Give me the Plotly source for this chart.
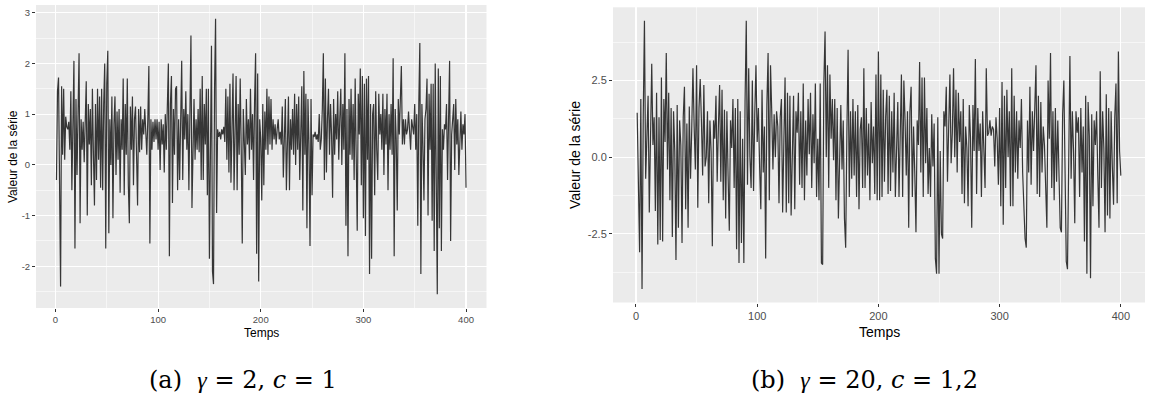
import plotly.graph_objects as go

# ---- data ----
SERIES_A = [
    -0.3, 1.45, 1.72, -1.2, -2.4, 1.55, 0.2, 1.5, 0.1, 0.95,
    0.75, 0.7, 0.85, 0.3, 1.45, -0.5, 0.7, 2.05, -1.65, 1.3,
    -0.2, 0.95, 2.2, -1.15, 0.9, 0.3, 0.85, 0.05, 1.2, 1.65,
    -1.0, 1.2, 0.4, 1.1, -0.4, 1.5, 0.2, -0.8, 1.2, -0.3,
    1.5, 0.1, 1.35, -0.45, 1.5, -0.5, 1.2, 2.0, -1.65, 1.6,
    2.25, -1.35, 0.9, 0.0, 1.35, -1.05, 0.8, 1.35, -0.2, 1.05,
    0.1, 1.1, -0.55, 0.9, 0.3, 1.7, -0.6, 1.2, 0.2, 1.7,
    -0.4, -1.15, 1.15, 0.3, 1.35, -0.4, 0.9, 1.15, 0.2, -0.8,
    1.1, 0.25, 1.15, 0.3, 0.9, 0.6, 1.1, 0.4, 0.2, 0.9,
    1.95, -1.55, 0.9, 0.3, 0.85, 0.45, 0.9, 0.5, 0.9, 0.3,
    0.85, -0.1, 0.9, 0.4, 0.8, -0.15, 1.0, 0.3, 1.4, 2.0,
    -1.8, 1.2, 1.75, -0.75, 1.1, 0.2, 1.5, 1.55, -0.5, 0.9,
    -0.3, 1.3, 2.05, -0.3, 1.1, 0.5, 1.45, 0.3, 1.0, -0.5,
    1.45, 2.55, -0.85, 0.8, 1.3, 0.1, 0.9, 0.3, 1.1, 0.25,
    1.5, -0.3, 1.75, -0.3, 1.2, 0.4, 1.5, -0.6, 1.5, -1.85,
    1.4, 2.35, -2.1, -2.35, 1.5, 2.88, -0.95, 0.7, 0.55, 0.65,
    0.5, 0.7, 0.6, 0.75, 0.45, 1.5, 0.1, 1.35, -0.15, 1.6,
    -0.35, 1.3, 1.8, -0.5, 1.0, 1.75, -0.5, 1.2, 0.2, 1.7,
    0.3, -1.55, 1.1, 0.6, -0.2, 1.3, 0.4, 0.9, 0.1, 1.5,
    0.3, 1.0, -0.3, 1.25, 2.2, -1.75, 1.8, -2.3, 0.9, 0.5,
    -0.7, 1.2, -0.4, 1.05, 0.3, 1.5, 0.2, 1.35, 0.4, 1.3,
    0.3, 0.9, 0.5, 0.8, 0.4, 0.7, 0.9, 0.5, 0.65, 0.4,
    1.15, -0.25, 0.9, 1.3, -0.5, 0.8, 1.35, -0.5, 0.9, 0.3,
    1.1, 0.2, 1.4, 0.0, 1.2, 0.3, 1.35, -0.3, 0.9, 1.55,
    -0.9, 1.85, 0.2, 1.4, -1.25, 1.3, 0.4, -1.6, 1.3, -0.6,
    0.6, 0.55, 0.65, 0.5, 0.6, 0.45, 1.0, 0.3, 0.5, 1.1,
    2.2, -0.3, 1.7, -0.15, 0.9, 1.5, 0.2, 1.2, 0.6, -0.65,
    1.3, 0.2, 1.0, 0.5, 1.45, 0.1, 0.9, 1.5, 0.0, 1.2,
    0.3, 2.2, -1.2, 1.1, -1.8, 1.3, 0.2, 1.5, 0.1, 1.2,
    -0.3, 1.7, 0.2, -1.3, 1.4, 0.6, 1.9, -0.4, 1.75, -1.05,
    1.6, -1.4, 1.7, 0.1, 1.75, -2.15, 1.2, -1.85, 1.0, 1.2,
    -0.6, 1.45, 0.3, -0.3, 1.4, 0.6, 1.0, 0.3, 1.4, -0.2,
    1.1, 0.4, 1.4, -0.5, 1.0, 0.3, 1.2, 0.2, 2.1, -1.8,
    1.1, 0.5, -0.9, 1.3, 0.6, 1.3, 1.95, 0.4, 0.9, 0.4,
    0.9, 0.6, 0.7, 1.05, 0.6, 0.3, 0.9, 0.7, 0.6, 1.2,
    0.3, 1.0, -1.2, 1.2, 2.4, -2.15, 1.2, 0.4, -0.7, 0.9,
    1.1, 1.7, -1.0, 1.4, 0.3, 1.6, -1.1, 1.6, -1.7, 2.0,
    -0.5, -2.55, 1.9, -1.25, 1.75, -1.7, 0.7, 0.3, 0.8, 0.7,
    1.2, -0.3, 0.9, 2.05, -1.5, 0.6, 0.9, 1.2, -0.1, 1.3,
    0.4, 0.9, -0.2, 0.7, 1.05, 0.3, 0.8, 0.6, 1.0, -0.45,
]

SERIES_B = [
    1.45, -1.65, -3.1, 1.9, -4.3, 1.3, 4.45, -0.7, 1.2, 2.0,
    -1.8, 0.4, 3.05, 0.4, 1.3, -1.75, 2.1, -2.85, 1.3, -2.7,
    2.6, -2.75, 1.9, 0.5, 3.4, -0.4, 2.1, -1.4, 1.6, -2.6,
    1.5, 0.2, -3.35, 1.7, -2.3, 1.2, 0.4, -2.8, 1.3, 2.3,
    -1.7, 1.1, -2.3, 1.65, -0.7, 0.9, 2.9, 1.0, -0.4, 3.0,
    -1.65, 1.6, 2.55, 1.2, -0.6, 2.35, -0.3, 0.0, 1.5, -1.5,
    1.2, 0.2, -2.9, 1.2, 0.6, 2.0, -0.8, 1.0, 2.35, -0.8,
    2.2, -1.4, 1.55, -2.0, 1.5, -0.6, -2.4, 1.2, 0.3, 1.9,
    -1.0, 1.6, -3.0, 1.9, -3.45, 1.5, -2.8, 0.6, -3.45, 1.8,
    4.45, -0.9, 2.9, 0.0, -1.0, 2.5, -1.1, 1.4, 3.0, 0.5,
    1.6, -0.3, -1.7, 2.2, -0.5, 1.0, -3.3, 1.7, 3.4, -1.4,
    3.0, 1.5, -0.4, 1.4, 0.0, 1.5, 1.0, -1.5, 1.3, 1.9,
    -1.8, 0.5, 2.6, -1.8, 2.1, -1.5, 2.0, -1.9, 0.8, 2.0,
    -1.7, 1.5, 0.8, 2.1, -0.9, 1.5, -1.0, 2.4, -1.4, 1.2,
    -0.6, 1.9, 0.1, 2.1, -1.0, 1.4, -0.2, 2.4, -1.3, 0.6,
    -1.4, 2.4, -3.45, -3.5, 2.4, 4.1, 0.0, 3.0, -1.0, 2.7,
    0.6, 1.9, -0.1, 1.9, -1.4, 1.6, -2.0, 0.5, 1.7, -0.4,
    1.2, -2.0, -2.95, 0.8, 3.5, -1.3, 1.5, -0.7, 1.9, -0.6,
    1.5, -1.3, 1.7, -1.7, 0.9, 1.3, -1.0, 2.9, -1.0, 1.6,
    -0.6, 1.1, -1.4, 1.8, -0.2, 1.0, -1.2, 2.7, -1.4, 3.45,
    -1.4, 2.7, -1.3, 2.2, -0.8, 1.3, 2.2, -1.2, 2.0, -1.1,
    1.5, -0.5, 2.1, -1.3, 0.4, 1.8, -1.3, 0.9, 2.7, -1.3,
    2.5, 1.2, -0.6, 1.5, -2.3, 1.5, 2.3, -1.3, 1.0, -0.5,
    -2.45, 1.2, 0.4, 3.1, -0.5, 2.6, -1.3, 2.6, -0.2, 1.6,
    -1.2, 0.3, -1.3, 1.4, -0.3, 1.1, -3.3, -3.8, 1.3, -3.8,
    0.2, -2.5, -2.65, 1.5, 1.0, 2.3, -0.8, 1.0, 2.7, -0.2,
    0.8, 2.9, 0.0, 2.2, -0.5, 2.1, 0.5, 1.5, -1.2, 1.9,
    -1.5, 1.0, 0.3, -1.6, 1.7, 0.6, -2.3, 1.7, 0.2, 3.2,
    -1.2, 1.6, 0.2, 1.1, -1.3, 1.5, 0.5, -1.0, 2.9, 0.7,
    0.8, 1.2, 0.7, 1.0, 0.9, -0.3, 1.3, 0.6, -0.9, 1.6,
    -1.6, 2.45, -2.2, 2.0, -1.0, 2.2, 0.0, 1.5, -1.6, 2.9,
    -1.6, 2.0, -0.5, 1.5, -0.7, 1.2, 0.3, 1.9, -0.5, -1.8,
    -2.65, -2.95, 1.2, -0.5, 2.3, -0.9, 1.5, 0.2, 1.8, 3.0,
    -1.2, 2.0, -1.3, 1.8, -0.5, 1.0, 0.4, -1.0, -2.3, 2.5,
    0.6, 3.4, -1.0, 1.5, -1.4, 1.6, -0.8, 1.2, -0.4, -2.3,
    -2.45, 1.4, 2.5, -1.0, -3.4, -3.65, 1.2, 3.3, -0.7, 1.5,
    0.2, -2.15, 1.5, 0.8, 1.3, -1.3, 1.6, -0.5, 1.0, -2.75,
    2.0, -3.8, 1.8, 0.7, -3.95, 1.4, -1.6, 1.2, 0.4, 1.5,
    -0.6, -2.3, 2.8, -1.0, 1.5, 0.3, -2.45, 2.05, -1.9, 1.6,
    -2.0, 1.5, -0.3, -1.55, 1.3, 2.4, -1.5, 3.45, 0.2, -0.6,
]

TIME_A = list(range(1, len(SERIES_A) + 1))
TIME_B = list(range(1, len(SERIES_B) + 1))

X_TICKS = [0, 100, 200, 300, 400]
X_TICK_LABELS = ["0", "100", "200", "300", "400"]
X_MINOR = [50, 150, 250, 350]

A_Y_TICKS = [-2, -1, 0, 1, 2, 3]
A_Y_TICK_LABELS = ["-2", "-1", "0", "1", "2", "3"]
A_Y_MINOR = [-2.5, -1.5, -0.5, 0.5, 1.5, 2.5]

B_Y_TICKS = [-2.5, 0, 2.5]
B_Y_TICK_LABELS = ["-2.5", "0.0", "2.5"]
B_Y_MINOR = [-3.75, -1.25, 1.25, 3.75]

X_TITLE = "Temps"
Y_TITLE = "Valeur de la série"
GAMMA = "<span style=\"font-family:'Liberation Serif'\"><i>γ</i></span>"
CAPTION_A = "(a)\u00a0\u00a0" + GAMMA + " = 2, <i>c</i> = 1"
CAPTION_B = "(b)\u00a0\u00a0" + GAMMA + " = 20, <i>c</i> = 1,2"

# ---- layout helpers ----
W, H = 1158, 402


def fx(p):
    return p / W


def fy(p):
    return 1 - p / H


def expand(vals, mult=0.05):
    lo, hi = min(vals), max(vals)
    pad = (hi - lo) * mult
    return [lo - pad, hi + pad]


LINE_COLOR = "#363636"
PANEL_BG = "#EBEBEB"
TICK_COLOR = "#4D4D4D"
SANS = "Liberation Sans, Arial, sans-serif"

fig = go.Figure()
fig.add_trace(go.Scatter(x=TIME_A, y=SERIES_A, mode="lines",
                         line=dict(color=LINE_COLOR, width=1.2),
                         xaxis="x", yaxis="y", hoverinfo="skip"))
fig.add_trace(go.Scatter(x=TIME_B, y=SERIES_B, mode="lines",
                         line=dict(color=LINE_COLOR, width=1.2),
                         xaxis="x2", yaxis="y2", hoverinfo="skip"))


def axis_common(tickvals, ticktext, minor_vals, size):
    return dict(
        tickmode="array", tickvals=tickvals, ticktext=ticktext,
        showgrid=True, gridcolor="white", gridwidth=1.1,
        minor=dict(tickmode="array", tickvals=minor_vals, showgrid=True,
                   gridcolor="white", gridwidth=0.55),
        zeroline=False, showline=False,
        ticks="outside", ticklen=3, tickwidth=1, tickcolor="#333333",
        tickfont=dict(family=SANS, size=size, color=TICK_COLOR),
    )


fig.update_layout(
    width=W, height=H,
    margin=dict(l=0, r=0, t=0, b=0),
    paper_bgcolor="white", plot_bgcolor=PANEL_BG,
    showlegend=False,
    xaxis=dict(domain=[fx(36), fx(486.5)], anchor="y",
               range=expand(TIME_A),
               **axis_common(X_TICKS, X_TICK_LABELS, X_MINOR, 9.5)),
    yaxis=dict(domain=[fy(308), fy(5)], anchor="x",
               range=expand(SERIES_A),
               **axis_common(A_Y_TICKS, A_Y_TICK_LABELS, A_Y_MINOR, 9.5)),
    xaxis2=dict(domain=[fx(613), fx(1145)], anchor="y2",
                range=expand(TIME_B),
                **axis_common(X_TICKS, X_TICK_LABELS, X_MINOR, 11)),
    yaxis2=dict(domain=[fy(302.5), fy(7.3)], anchor="x2",
                range=expand(SERIES_B),
                **axis_common(B_Y_TICKS, B_Y_TICK_LABELS, B_Y_MINOR, 11)),
)

annots = [
    # panel (a) axis titles
    dict(text=Y_TITLE, x=fx(12.5), y=fy(156.5), textangle=-90,
         font=dict(family=SANS, size=12, color="black")),
    dict(text=X_TITLE, x=fx(261.5), y=fy(332.5),
         font=dict(family=SANS, size=12, color="black")),
    # panel (b) axis titles
    dict(text=Y_TITLE, x=fx(575), y=fy(155), textangle=-90,
         font=dict(family=SANS, size=14, color="black")),
    dict(text=X_TITLE, x=fx(879), y=fy(331.5),
         font=dict(family=SANS, size=14, color="black")),
    # captions
    dict(text=CAPTION_A, x=fx(243), y=fy(380),
         font=dict(family="DejaVu Serif, serif", size=24, color="black")),
    dict(text=CAPTION_B, x=fx(864), y=fy(380),
         font=dict(family="DejaVu Serif, serif", size=24, color="black")),
]
for a in annots:
    a.update(xref="paper", yref="paper", showarrow=False,
             xanchor="center", yanchor="middle")
fig.update_layout(annotations=annots)

fig.write_html(
    "out.html",
    config={"displayModeBar": False, "staticPlot": True},
    post_script="document.body.style.margin='0';document.body.style.overflow='hidden';",
)
